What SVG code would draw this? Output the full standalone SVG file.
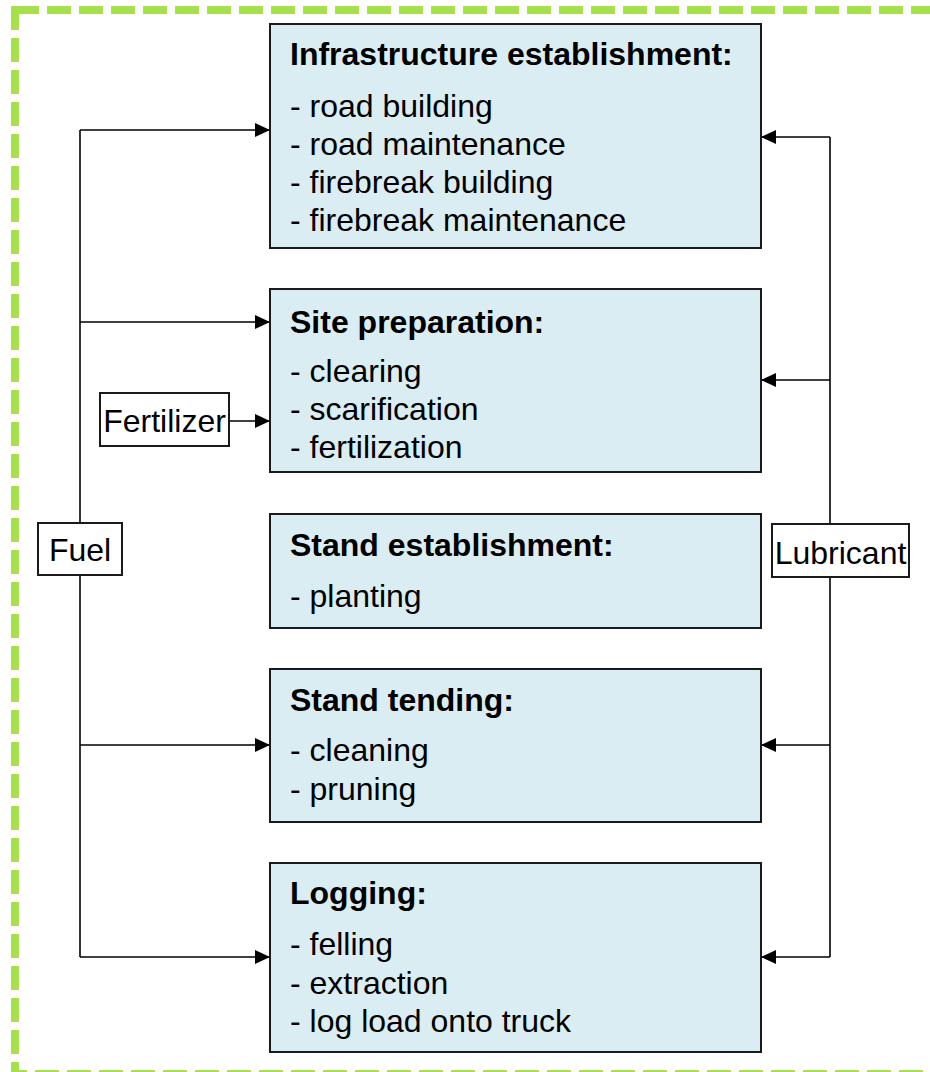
<svg xmlns="http://www.w3.org/2000/svg" width="930" height="1072" viewBox="0 0 930 1072">
<style>
.frame{fill:none;stroke:#a6e04a;stroke-width:8;stroke-dasharray:24 8}
.box{fill:#daedf3;stroke:#1a1a1a;stroke-width:2}
.lbl{fill:#fff;stroke:#1a1a1a;stroke-width:2}
.t{font-family:"Liberation Sans",Arial,sans-serif;font-size:32px;fill:#000}
.b{font-weight:bold}
.c{text-anchor:middle}
.ln{fill:none;stroke:#000;stroke-width:1.6}
</style>
<defs>
<marker id="ah" viewBox="0 0 15 14" refX="15" refY="7" markerWidth="15" markerHeight="14" markerUnits="userSpaceOnUse" orient="auto">
<path d="M0,0 L15,7 L0,14 Z" fill="#000"/>
</marker>
</defs>
<rect class="frame" x="15" y="10" width="930" height="1064"/>
<g id="connectors">
<path class="ln" d="M80,130 V957"/>
<path class="ln" d="M80,130 H270" marker-end="url(#ah)"/>
<path class="ln" d="M80,322 H270" marker-end="url(#ah)"/>
<path class="ln" d="M80,745 H270" marker-end="url(#ah)"/>
<path class="ln" d="M80,957 H270" marker-end="url(#ah)"/>
<path class="ln" d="M229,421 H270" marker-end="url(#ah)"/>
<path class="ln" d="M830,137 V957"/>
<path class="ln" d="M830,137 H761" marker-end="url(#ah)"/>
<path class="ln" d="M830,380 H761" marker-end="url(#ah)"/>
<path class="ln" d="M830,745 H761" marker-end="url(#ah)"/>
<path class="ln" d="M830,957 H761" marker-end="url(#ah)"/>
</g>
<g id="infrastructure">
<rect class="box" x="270" y="24" width="491" height="224"/>
<text class="t b" x="290" y="65">Infrastructure establishment:</text>
<text class="t" x="290" y="117">- road building</text>
<text class="t" x="290" y="155">- road maintenance</text>
<text class="t" x="290" y="193">- firebreak building</text>
<text class="t" x="290" y="231">- firebreak maintenance</text>
</g>
<g id="site-preparation">
<rect class="box" x="270" y="289" width="491" height="183"/>
<text class="t b" x="290" y="333">Site preparation:</text>
<text class="t" x="290" y="382">- clearing</text>
<text class="t" x="290" y="420">- scarification</text>
<text class="t" x="290" y="458">- fertilization</text>
</g>
<g id="stand-establishment">
<rect class="box" x="270" y="514" width="491" height="114"/>
<text class="t b" x="290" y="556">Stand establishment:</text>
<text class="t" x="290" y="607">- planting</text>
</g>
<g id="stand-tending">
<rect class="box" x="270" y="669" width="491" height="153"/>
<text class="t b" x="290" y="711">Stand tending:</text>
<text class="t" x="290" y="761">- cleaning</text>
<text class="t" x="290" y="800">- pruning</text>
</g>
<g id="logging">
<rect class="box" x="270" y="863" width="491" height="189"/>
<text class="t b" x="290" y="904">Logging:</text>
<text class="t" x="290" y="955">- felling</text>
<text class="t" x="290" y="994">- extraction</text>
<text class="t" x="290" y="1032">- log load onto truck</text>
</g>
<g id="fertilizer">
<rect class="lbl" x="100" y="393" width="129" height="53"/>
<text class="t c" x="164.5" y="432">Fertilizer</text>
</g>
<g id="fuel">
<rect class="lbl" x="38" y="523" width="84" height="52"/>
<text class="t c" x="80" y="561">Fuel</text>
</g>
<g id="lubricant">
<rect class="lbl" x="772" y="524" width="137" height="53"/>
<text class="t c" x="840.5" y="564">Lubricant</text>
</g>
</svg>
